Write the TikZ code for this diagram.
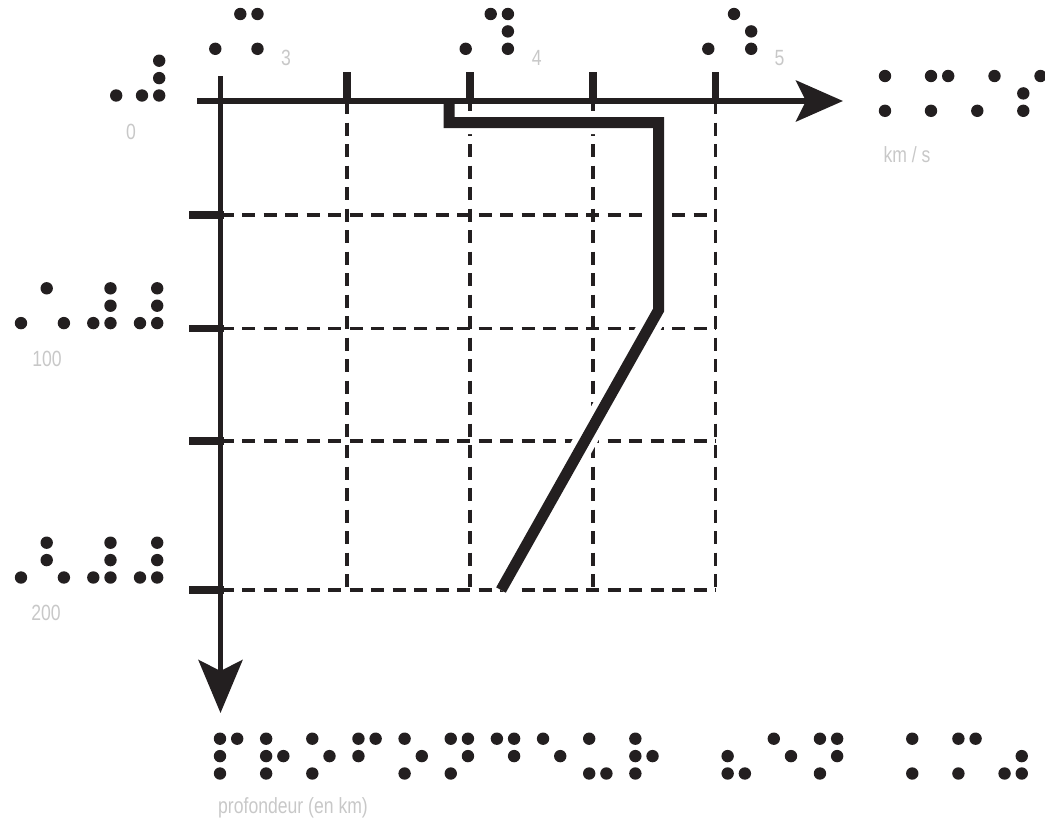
\documentclass[tikz,border=0pt]{standalone}
\usepackage{fontspec}
\setmainfont[FakeStretch=0.8]{Liberation Sans}
\usetikzlibrary{arrows.meta}
\definecolor{ink}{HTML}{231F20}
\definecolor{labgray}{RGB}{200,200,200}
\tikzset{
  axisline/.style={draw=ink, line width=5.5pt},
  tickmark/.style={draw=ink, line width=7.5pt},
  gridline/.style={draw=ink, line width=3.3pt, dash pattern=on 13pt off 8.5pt},
  profile/.style={draw=ink, line width=11pt, miter limit=10},
  halo/.style={draw=white, line width=23pt, miter limit=10},
  lab/.style={text=labgray, font=\fontsize{22}{26}\selectfont, inner sep=0pt},
  brdot/.style={fill=ink},
}
% braille cell: #1 = x of left column, #2 = y of top row, #3 = dot list
\newcommand\brcell[3]{%
  \foreach \d in {#3}{%
    \pgfmathsetmacro\cx{#1+(\d>3)*17.2}%
    \pgfmathsetmacro\cy{#2+mod(\d-1,3)*17.4}%
    \fill[brdot] (\cx,\cy) circle[radius=6.2pt];}}
\begin{document}
\begin{tikzpicture}[x=1pt,y=-1pt]
\useasboundingbox (0,0) rectangle (1045,825);
% named points
\coordinate (xo) at (197,101);
\coordinate (xe) at (843,101);
\coordinate (yo) at (220.5,76);
\coordinate (ye) at (220.5,713);
% grid
\foreach \x in {347,470,593,715.5}{
  \draw[gridline] (\x,101) -- (\x,590);}
\foreach \y in {215,328.5,441,590}{
  \draw[gridline] (220.5,\y) -- (715.5,\y);}
% profile points
\coordinate (p0) at (449,101);
\coordinate (p1) at (449,122.5);
\coordinate (p2) at (658.6,122.5);
\coordinate (p3) at (658.6,310);
\coordinate (p4) at (501,590);
\draw[halo] (p0) -- (p1) -- (p2) -- (p3) -- (p4);
% axes
\draw[axisline, -{Stealth[length=47pt, width=41pt, inset=10pt]}] (xo) -- (xe);
\draw[axisline, -{Stealth[length=53pt, width=44pt, inset=11pt]}] (yo) -- (ye);
% ticks
\foreach \x in {347,470,593,715.5}{
  \draw[tickmark] (\x,72) -- (\x,104);}
\foreach \y in {215,328.5,441,590}{
  \draw[tickmark] (189,\y) -- (224,\y);}
% profile
\draw[profile] (p0) -- (p1) -- (p2) -- (p3) -- (p4);
% braille: top labels
\brcell{99}{60.7}{6}  \brcell{142}{60.7}{3,4,5,6}
\brcell{198.1}{14}{6} \brcell{240.3}{14}{1,4,6}
\brcell{448.5}{14}{6} \brcell{490.7}{14}{1,4,5,6}
\brcell{691.1}{14}{6} \brcell{734}{14}{1,5,6}
% km / s
\brcell{885}{76}{1,3}
\brcell{931}{76}{1,3,4}
\brcell{977.3}{76}{3,4}
\brcell{1023.3}{76}{2,3,4}
% left labels
\brcell{3.8}{288.3}{6} \brcell{46.7}{288.3}{1,6}
\brcell{93.3}{288.3}{3,4,5,6} \brcell{140}{288.3}{3,4,5,6}
\brcell{3.8}{542.7}{6} \brcell{46.7}{542.7}{1,2,6}
\brcell{93.3}{542.7}{3,4,5,6} \brcell{140}{542.7}{3,4,5,6}
% profondeur (en km)
\brcell{220}{738.7}{1,2,3,4}
\brcell{266.15}{738.7}{1,2,3,5}
\brcell{312.3}{738.7}{1,3,5}
\brcell{358.45}{738.7}{1,2,4}
\brcell{404.6}{738.7}{1,3,5}
\brcell{450.75}{738.7}{1,3,4,5}
\brcell{496.9}{738.7}{1,4,5}
\brcell{543.05}{738.7}{1,5}
\brcell{589.2}{738.7}{1,3,6}
\brcell{635.35}{738.7}{1,2,3,5}
\brcell{727.65}{738.7}{2,3,6}
\brcell{773.8}{738.7}{1,5}
\brcell{819.95}{738.7}{1,3,4,5}
\brcell{912.25}{738.7}{1,3}
\brcell{958.4}{738.7}{1,3,4}
\brcell{1004.55}{738.7}{3,5,6}
% print labels
\node[lab, anchor=base] (t0) at (131,139) {0};
\node[lab, anchor=base] (t3) at (286,65) {3};
\node[lab, anchor=base] (t4) at (536.7,65) {4};
\node[lab, anchor=base] (t5) at (779.5,65) {5};
\node[lab, anchor=base] (tu) at (907,162) {km / s};
\node[lab, anchor=base] (t100) at (47,366.7) {100};
\node[lab, anchor=base] (t200) at (46,620) {200};
\node[lab, anchor=base west] (tp) at (218,813) {profondeur (en km)};
\end{tikzpicture}
\end{document}
